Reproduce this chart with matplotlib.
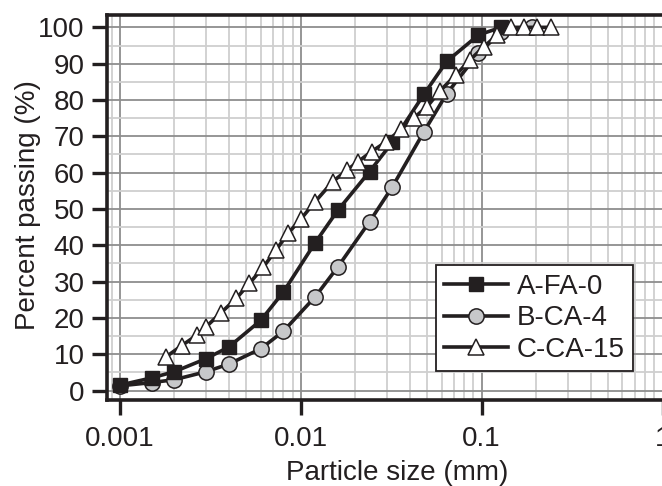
import matplotlib
matplotlib.use("Agg")
import matplotlib.pyplot as plt
from matplotlib.ticker import LogLocator, FixedLocator, NullFormatter, FixedFormatter

plt.rcParams['font.family'] = ['Liberation Sans', 'DejaVu Sans']

# ---- data ----
a_size = [0.001, 0.0015, 0.002, 0.003, 0.004, 0.006, 0.008, 0.012, 0.016,
          0.024, 0.032, 0.048, 0.064, 0.096, 0.128]
a_pass = [1.5, 3.5, 5.2, 8.8, 12.0, 19.3, 27.1, 40.7, 49.6,
          60.3, 68.3, 81.6, 90.6, 97.9, 100.0]

b_size = [0.001, 0.0015, 0.002, 0.003, 0.004, 0.006, 0.008, 0.012, 0.016,
          0.024, 0.032, 0.048, 0.064, 0.096, 0.128, 0.19]
b_pass = [1.3, 2.2, 3.0, 5.2, 7.3, 11.5, 16.3, 25.8, 34.0,
          46.5, 56.0, 71.3, 81.7, 92.9, 98.6, 100.0]

c_size = [0.0018, 0.0022, 0.00265, 0.003, 0.0036, 0.0044, 0.0052, 0.0062,
          0.0073, 0.0085, 0.010, 0.012, 0.015, 0.018, 0.0207, 0.0246,
          0.0297, 0.036, 0.042, 0.050, 0.059, 0.072, 0.086, 0.103, 0.122,
          0.146, 0.172, 0.203, 0.243]
c_pass = [9.3, 12.4, 15.2, 17.6, 21.3, 25.4, 29.5, 34.0, 38.7, 43.3, 47.2,
          52.0, 57.5, 60.7, 63.0, 65.8, 68.5, 72.0, 75.0, 78.2, 82.6, 86.9,
          91.0, 94.7, 97.9, 100.0, 100.0, 100.0, 100.0]

labels = ['A-FA-0', 'B-CA-4', 'C-CA-15']
x_ticks = [0.001, 0.01, 0.1, 1]
x_tick_labels = ['0.001', '0.01', '0.1', '1']
y_ticks = list(range(0, 101, 10))

ink = '#231f20'

fig = plt.figure(figsize=(6.62, 4.86), dpi=100)
W, H = 662, 486
left_px, right_px, top_px, bottom_px = 107, 700, 15, 400
ax = fig.add_axes([left_px / W, 1 - bottom_px / H,
                   (right_px - left_px) / W, (bottom_px - top_px) / H])

ax.set_xscale('log')
ax.set_xlim(0.000848, 1.611)
ax.set_ylim(-2.6, 103.4)

lw = 2.6
ax.plot(a_size, a_pass, '-', color=ink, lw=lw, marker='s', ms=9.5,
        mfc=ink, mec=ink, mew=1.0, label=labels[0], zorder=4)
ax.plot(b_size, b_pass, '-', color=ink, lw=lw, marker='o', ms=11,
        mfc='#c7c8ca', mec=ink, mew=1.1, label=labels[1], zorder=3)
ax.plot(c_size, c_pass, '-', color=ink, lw=lw, marker='^', ms=11.5,
        mfc='white', mec=ink, mew=1.1, label=labels[2], zorder=5)

# ticks
ax.xaxis.set_major_locator(FixedLocator(x_ticks))
ax.xaxis.set_major_formatter(FixedFormatter(x_tick_labels))
ax.xaxis.set_minor_locator(LogLocator(base=10, subs=range(2, 10), numticks=20))
ax.xaxis.set_minor_formatter(NullFormatter())
ax.yaxis.set_major_locator(FixedLocator(y_ticks))
ax.yaxis.set_minor_locator(FixedLocator([v + 5 for v in y_ticks[:-1]]))

ax.tick_params(axis='both', which='major', direction='out', length=11,
               width=2.4, color=ink, labelsize=20, labelcolor=ink)
ax.tick_params(axis='x', which='major', pad=8)
ax.tick_params(axis='y', which='major', pad=5)
ax.tick_params(which='minor', length=0)

ax.grid(which='major', color='#8e8e8e', lw=1.3, zorder=0)
ax.grid(which='minor', color='#cfcfcf', lw=1.3, zorder=0)
ax.set_axisbelow(True)

for s in ['left', 'bottom', 'top']:
    ax.spines[s].set_linewidth(2.6)
    ax.spines[s].set_color(ink)
ax.spines['right'].set_visible(False)

ax.set_xlabel('Particle size (mm)', fontsize=20, color=ink)
ax.set_ylabel('Percent passing (%)', fontsize=20, color=ink)
ax.xaxis.set_label_coords((397 - left_px) / (right_px - left_px), -0.157)
ax.yaxis.set_label_coords(-0.111, (400 - 205) / 385)

leg = ax.legend(loc='lower left', bbox_to_anchor=(0.555, 0.075),
                fontsize=20, frameon=True, fancybox=False, framealpha=1,
                edgecolor=ink, handlelength=2.3, handletextpad=0.3,
                labelspacing=0.2, borderpad=0.3, borderaxespad=0)
leg.get_frame().set_linewidth(1.3)
for t in leg.get_texts():
    t.set_color(ink)

fig.savefig('out.png', dpi=100)
